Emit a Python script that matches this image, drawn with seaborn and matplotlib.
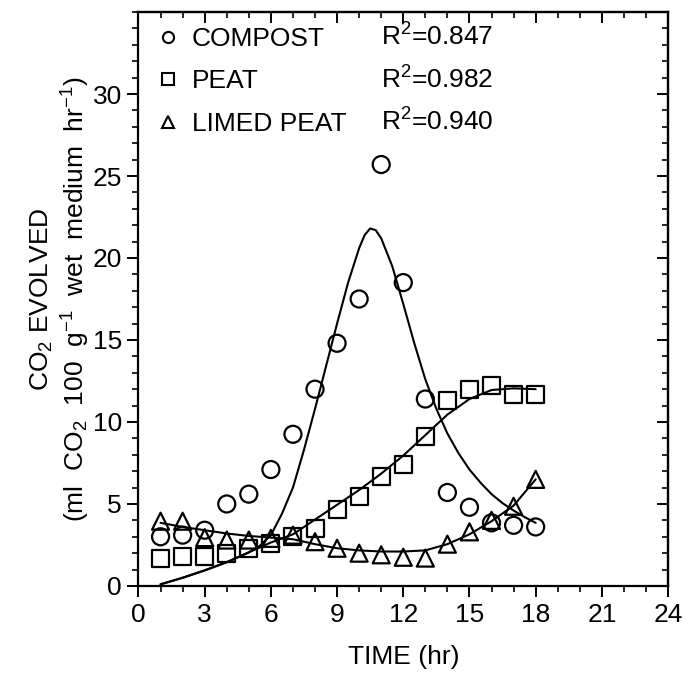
import matplotlib
matplotlib.use("Agg")
import matplotlib.pyplot as plt
from matplotlib.lines import Line2D
from matplotlib.ticker import MultipleLocator
import seaborn as sns

# Measured CO2 evolution (ml CO2 per 100 g wet medium per hour)
hours = list(range(1, 19))
compost = [3.0, 3.1, 3.4, 5.0, 5.6, 7.1, 9.25, 12.0, 14.8, 17.5,
           25.7, 18.5, 11.4, 5.7, 4.8, 3.85, 3.7, 3.6]
peat = [1.7, 1.8, 1.8, 2.0, 2.3, 2.6, 3.0, 3.5, 4.65, 5.45,
        6.7, 7.4, 9.1, 11.3, 12.0, 12.2, 11.7, 11.7]
limed_peat = [3.95, 3.95, 2.95, 2.8, 2.8, 2.9, 3.1, 2.7, 2.3, 2.0,
              1.9, 1.75, 1.7, 2.55, 3.3, 4.0, 4.86, 6.5]

# Fitted regression curves
compost_fit_hours = [1, 2, 3, 4, 5, 5.5, 6, 6.5, 7, 7.5, 8, 8.5, 9, 9.5, 10,
                     10.25, 10.5, 10.75, 11, 11.5, 12, 12.5, 13, 13.5, 14,
                     14.5, 15, 15.5, 16, 16.5, 17, 17.5, 18]
compost_fit = [0.1, 0.5, 0.95, 1.45, 2.05, 2.45, 3.1, 4.4, 6.0, 8.3, 10.8,
               13.4, 16.0, 18.5, 20.6, 21.4, 21.8, 21.7, 21.2, 19.5, 17.2,
               14.8, 12.6, 10.8, 9.3, 8.1, 7.1, 6.3, 5.6, 5.05, 4.6, 4.2,
               3.85]
fit_hours = list(range(1, 19))
peat_fit = [0.1, 0.5, 0.95, 1.45, 2.05, 2.65, 3.15, 4.05, 4.95, 5.85,
            6.85, 7.95, 9.2, 10.45, 11.4, 11.95, 12.05, 12.0]
limed_peat_fit = [3.85, 3.6, 3.4, 3.2, 3.05, 2.95, 2.85, 2.55, 2.3, 2.17,
                  2.1, 2.1, 2.17, 2.55, 3.15, 3.95, 4.9, 6.5]

series_names = ["COMPOST", "PEAT", "LIMED PEAT"]
r_squared = ["0.847", "0.982", "0.940"]

x_ticks = list(range(0, 25, 3))
y_ticks = list(range(0, 31, 5))

sns.set_theme(style="ticks")
plt.rcParams["font.family"] = ["Liberation Sans", "DejaVu Sans"]
plt.rcParams["mathtext.default"] = "regular"
plt.rcParams["text.color"] = "black"
plt.rcParams["axes.labelcolor"] = "black"

FS = 19
fig = plt.figure(figsize=(6.87, 6.75), dpi=100)
ax = fig.add_axes([0.2016, 0.1319, 0.7708, 0.8503])

ink = "black"
line_kw = dict(color=ink, linewidth=1.5, estimator=None, legend=False, ax=ax)
sns.lineplot(x=compost_fit_hours, y=compost_fit, **line_kw)
sns.lineplot(x=fit_hours, y=peat_fit, **line_kw)
sns.lineplot(x=fit_hours, y=limed_peat_fit, **line_kw)

pt_kw = dict(s=150, facecolors="none", edgecolor=ink, linewidth=1.6,
             legend=False, ax=ax, zorder=3)
sns.scatterplot(x=hours, y=compost, marker="o", **pt_kw)
sns.scatterplot(x=hours, y=peat, marker="s", **pt_kw)
sns.scatterplot(x=hours, y=limed_peat, marker="^", **pt_kw)

ax.set_xlim(0, 24)
ax.set_ylim(0, 35)
ax.set_xticks(x_ticks)
ax.set_yticks(y_ticks)
ax.xaxis.set_minor_locator(MultipleLocator(1))
ax.yaxis.set_minor_locator(MultipleLocator(1))
ax.tick_params(which="major", direction="out", length=8, width=1.4,
               labelsize=FS, color=ink, labelcolor=ink, pad=4)
ax.tick_params(which="minor", direction="out", length=4, width=1.2, color=ink)
for sp in ax.spines.values():
    sp.set_visible(True)
    sp.set_linewidth(1.6)
    sp.set_color(ink)

# inward ticks on the top and right edges
top = ax.secondary_xaxis("top")
top.set_xticks(x_ticks)
top.xaxis.set_minor_locator(MultipleLocator(1))
top.tick_params(which="major", direction="in", length=8, width=1.4,
                labeltop=False, color=ink)
top.tick_params(which="minor", direction="in", length=4, width=1.2, color=ink)
right = ax.secondary_yaxis("right")
right.set_yticks(list(range(0, 36, 5)))
right.yaxis.set_minor_locator(MultipleLocator(1))
right.tick_params(which="major", direction="in", length=8, width=1.4,
                  labelright=False, color=ink)
right.tick_params(which="minor", direction="in", length=4, width=1.2, color=ink)
for sec in (top, right):
    for sp in sec.spines.values():
        sp.set_linewidth(1.6)

ax.set_xlabel("TIME (hr)", fontsize=FS, color=ink, labelpad=13)
ax.set_ylabel("CO$_2$ EVOLVED\n(ml  CO$_2$  100  g$^{-1}$  wet  medium  hr$^{-1}$)",
              fontsize=FS, color=ink, labelpad=0, linespacing=1.2)

handles = [Line2D([], [], linestyle="none", marker=m, markersize=8,
                  markerfacecolor="none", markeredgecolor=ink,
                  markeredgewidth=1.5) for m in ("o", "s", "^")]
leg = ax.legend(handles, series_names, loc="upper left",
                bbox_to_anchor=(0.0406, 0.974), borderaxespad=0,
                borderpad=0, frameon=False, fontsize=FS, handlelength=0.6,
                handletextpad=0.6, labelspacing=0.70, labelcolor=ink)

fig.canvas.draw()
for txt, r2 in zip(leg.get_texts(), r_squared):
    x_disp, y_disp = txt.get_transform().transform(txt.get_position())
    _, y_ax = ax.transAxes.inverted().transform((x_disp, y_disp))
    ax.text(0.458, y_ax, "R$^2$=" + r2, transform=ax.transAxes,
            fontsize=FS, color=ink, ha="left", va="baseline")

fig.savefig("out.png", dpi=100, facecolor="white")
